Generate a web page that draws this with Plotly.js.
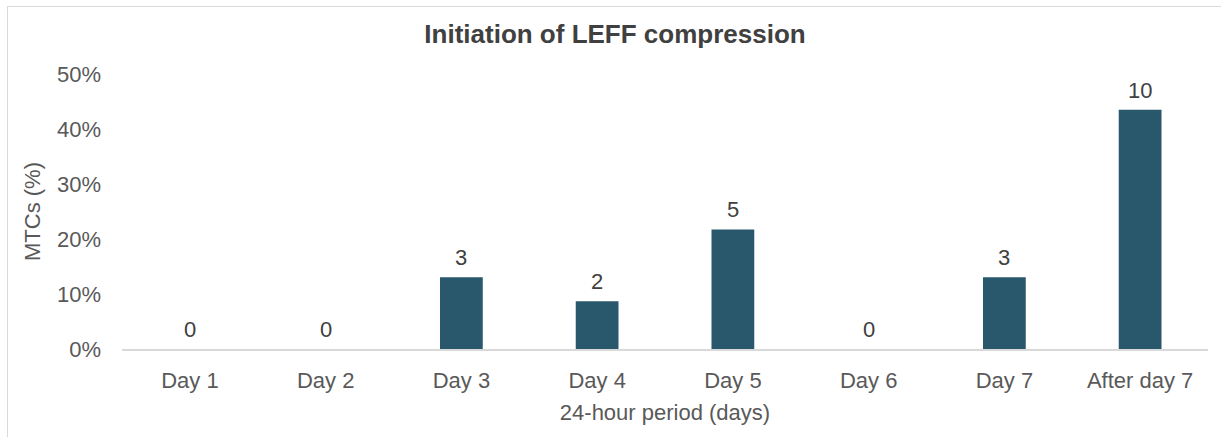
<!DOCTYPE html>
<html>
<head>
<meta charset="utf-8">
<script src="https://cdn.plot.ly/plotly-3.0.1.min.js"></script>
<style>
  html, body { margin: 0; padding: 0; overflow: hidden; background: #fff; }
  #wrap { position: relative; width: 1221px; height: 437px; }
  #chart { position: absolute; left: 0; top: 0; width: 1221px; height: 437px; }
  #frame { position: absolute; left: 7px; top: 6px; width: 1400px; height: 600px;
           border: 1.5px solid #d9d9d9; pointer-events: none; }
</style>
</head>
<body>
<div id="wrap">
  <div id="chart"></div>
  <div id="frame"></div>
</div>
<script>
const categories = ["Day 1", "Day 2", "Day 3", "Day 4", "Day 5", "Day 6", "Day 7", "After day 7"];
const percentValues = [0, 0, 13.04, 8.70, 21.74, 0, 13.04, 43.48];
const countLabels = ["0", "0", "3", "2", "5", "0", "3", "10"];
const yTickValues = [0, 10, 20, 30, 40, 50];
const yTickLabels = ["0%", "10%", "20%", "30%", "40%", "50%"];

const FONT = "Liberation Sans, Arial, sans-serif";

const bars = {
  type: "bar",
  x: categories,
  y: percentValues,
  marker: { color: "#29586C" },
  hoverinfo: "none",
  showlegend: false
};

const countAnnotations = categories.map((c, i) => ({
  x: c,
  y: percentValues[i],
  xref: "x",
  yref: "y",
  text: countLabels[i],
  showarrow: false,
  xanchor: "center",
  yanchor: "bottom",
  yshift: 5,
  font: { family: FONT, size: 22, color: "#404040" }
}));

const layout = {
  width: 1221,
  height: 437,
  margin: { l: 122, r: 13, t: 74, b: 88 },
  paper_bgcolor: "#ffffff",
  plot_bgcolor: "#ffffff",
  bargap: 0.685,
  font: { family: FONT, color: "#595959" },
  title: {
    text: "<b>Initiation of LEFF compression</b>",
    font: { family: FONT, size: 26, color: "#404040" },
    x: 615 / 1221,
    xref: "container",
    xanchor: "center",
    y: 1 - 34 / 437,
    yref: "container",
    yanchor: "middle"
  },
  annotations: countAnnotations,
  xaxis: {
    type: "category",
    showline: true,
    linecolor: "#d9d9d9",
    linewidth: 1.5,
    showgrid: false,
    zeroline: false,
    ticks: "",
    tickfont: { family: FONT, size: 22, color: "#595959" },
    ticklabelstandoff: 11,
    title: {
      text: "24-hour period (days)",
      font: { family: FONT, size: 22, color: "#595959" },
      standoff: 12
    }
  },
  yaxis: {
    range: [0, 50],
    tickmode: "array",
    tickvals: yTickValues,
    ticktext: yTickLabels,
    showline: false,
    showgrid: false,
    zeroline: false,
    ticks: "",
    tickfont: { family: FONT, size: 22, color: "#595959" },
    ticklabelstandoff: 20,
    title: {
      text: "MTCs (%)",
      font: { family: FONT, size: 22, color: "#595959" },
      standoff: 10
    }
  }
};

Plotly.newPlot("chart", [bars], layout, { displayModeBar: false, staticPlot: true });
</script>
</body>
</html>
